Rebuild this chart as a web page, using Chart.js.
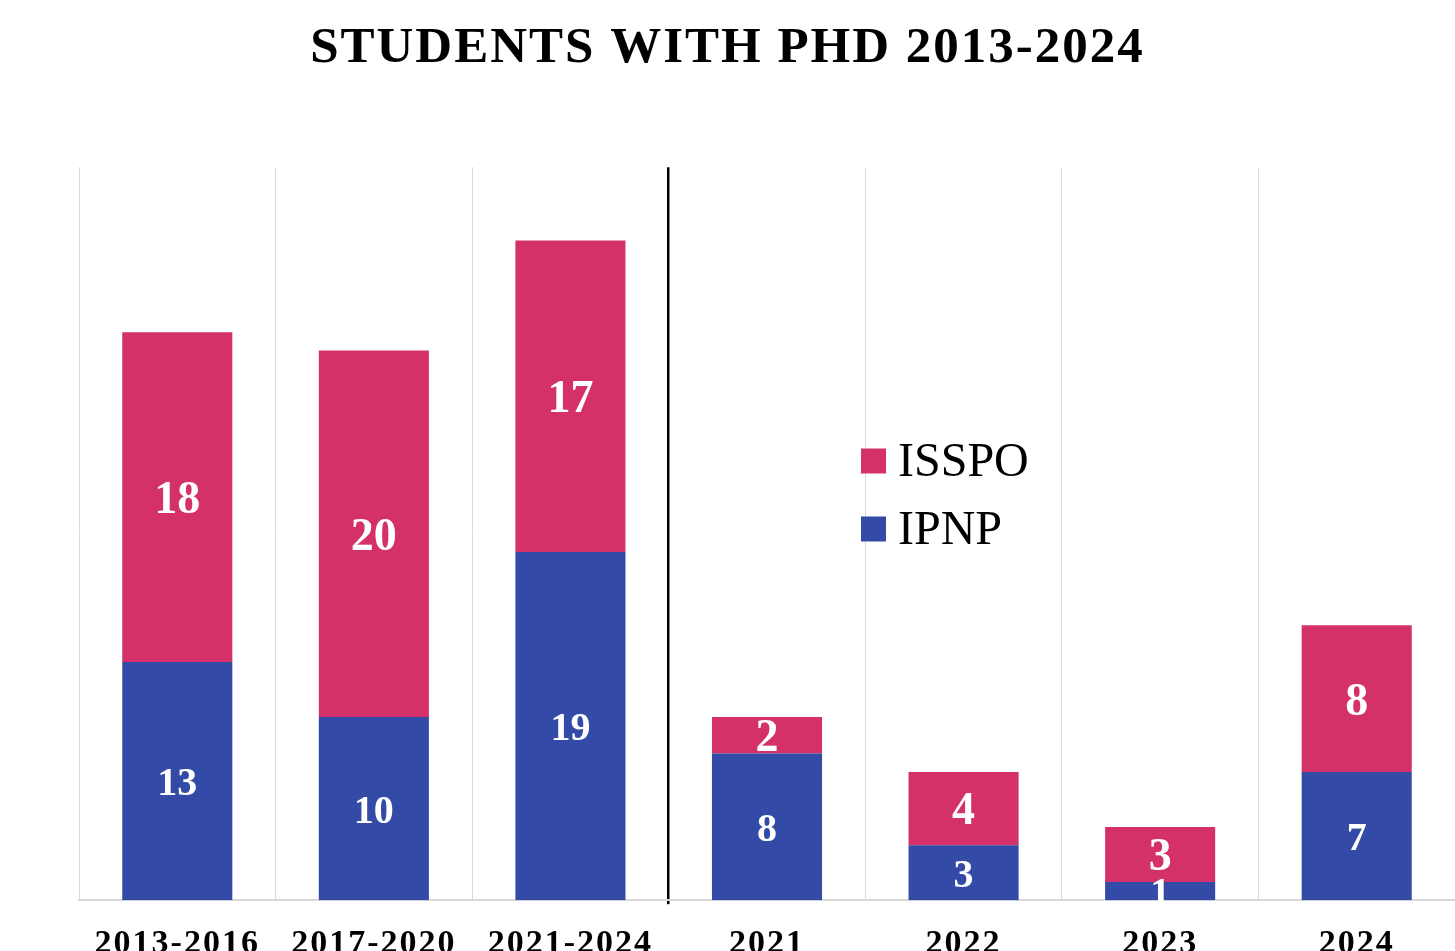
<!DOCTYPE html>
<html>
<head>
<meta charset="utf-8">
<script src="https://cdn.jsdelivr.net/npm/chart.js@4.4.1/dist/chart.umd.min.js"></script>
<style>
  html, body { margin: 0; padding: 0; background: #fff; overflow: hidden; }
  #wrap { position: relative; width: 1455px; height: 989px; }
</style>
</head>
<body>
<div id="wrap"><canvas id="phdChart"></canvas></div>
<script>
// data
const categories = ['2013-2016', '2017-2020', '2021-2024', '2021', '2022', '2023', '2024'];
const ipnp = [13, 10, 19, 8, 3, 1, 7];
const isspo = [18, 20, 17, 2, 4, 3, 8];

const PINK = '#D4316B';
const BLUE = '#334BA6';
const SERIF = "'Liberation Serif', 'Times New Roman', serif";

// title and axis labels are spaced out a little in the original
const spacedText = {
    id: 'spacedText',
    beforeDraw(chart) { chart.ctx.letterSpacing = '2px'; },
    afterDraw(chart) { chart.ctx.letterSpacing = '0px'; }
};

// white numbers inside each stacked segment
const segmentLabels = {
    id: 'segmentLabels',
    afterDatasetsDraw(chart) {
        const ctx = chart.ctx;
        ctx.save();
        ctx.letterSpacing = '0px';
        ctx.fillStyle = '#fff';
        ctx.textAlign = 'center';
        ctx.textBaseline = 'middle';
        chart.data.datasets.forEach((ds, di) => {
            const meta = chart.getDatasetMeta(di);
            ctx.font = 'bold ' + (di === 0 ? 40 : 46) + 'px ' + SERIF;
            meta.data.forEach((bar, i) => {
                const y = (bar.y + bar.base) / 2;
                ctx.fillText(String(ds.data[i]), bar.x, y + 4);
            });
        });
        ctx.restore();
    }
};

// legend in the middle of the plot, ISSPO above IPNP
const centerLegend = {
    id: 'centerLegend',
    afterDraw(chart, args, opts) {
        const ctx = chart.ctx;
        ctx.save();
        ctx.letterSpacing = '0px';
        ctx.font = '48px ' + SERIF;
        ctx.textBaseline = 'middle';
        const items = chart.data.datasets.slice().reverse();
        items.forEach((ds, k) => {
            const cy = opts.y + k * opts.gap;
            ctx.fillStyle = ds.backgroundColor;
            ctx.fillRect(opts.x, cy - 12.5, 25, 25);
            ctx.fillStyle = '#000';
            ctx.fillText(ds.label, opts.x + 37, cy + 2);
        });
        ctx.restore();
    }
};

new Chart(document.getElementById('phdChart'), {
    type: 'bar',
    data: {
        labels: categories,
        datasets: [
            { label: 'IPNP', data: ipnp, backgroundColor: BLUE },
            { label: 'ISSPO', data: isspo, backgroundColor: PINK }
        ]
    },
    options: {
        responsive: true,
        maintainAspectRatio: false,
        animation: false,
        layout: { padding: { left: 0, right: 0, top: 0, bottom: 4 } },
        datasets: { bar: { categoryPercentage: 1, barPercentage: 0.56 } },
        scales: {
            x: {
                stacked: true,
                grid: {
                    offset: true,
                    color: (c) => c.index === 3 ? '#000' : '#d9d9d9',
                    lineWidth: (c) => c.index === 3 ? 2.5 : 1,
                    tickColor: (c) => c.index === 3 ? '#000' : 'rgba(0,0,0,0)',
                    tickLength: 4
                },
                border: { color: '#d9d9d9', width: 2 },
                ticks: {
                    color: '#000',
                    padding: 20,
                    font: { family: SERIF, size: 34, weight: 'bold' }
                }
            },
            y: {
                stacked: true,
                min: 0,
                max: 40,
                grid: { display: false },
                border: { display: false },
                ticks: { display: false },
                afterFit: (s) => { s.width = 79; }
            }
        },
        plugins: {
            legend: { display: false },
            tooltip: { enabled: false },
            title: {
                display: true,
                text: 'STUDENTS WITH PHD 2013-2024',
                color: '#000',
                font: { family: SERIF, size: 51, weight: 'bold' },
                padding: { top: 18, bottom: 88 }
            },
            centerLegend: { x: 861, y: 461, gap: 68 }
        }
    },
    plugins: [spacedText, segmentLabels, centerLegend]
});
</script>
</body>
</html>
